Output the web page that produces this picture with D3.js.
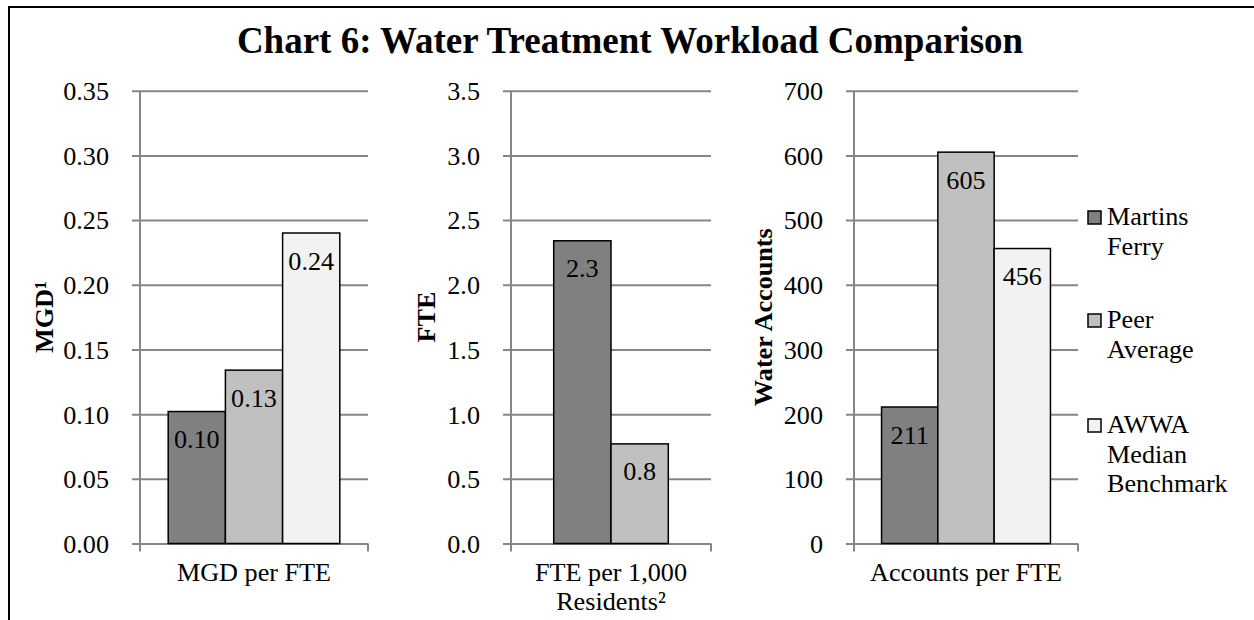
<!DOCTYPE html>
<html>
<head>
<meta charset="utf-8">
<script src="https://cdn.jsdelivr.net/npm/d3@7"></script>
<style>
  html, body { margin: 0; padding: 0; background: #fff; }
  svg { display: block; }
  text { font-family: "Liberation Serif", "Times New Roman", serif; fill: #000; }
</style>
</head>
<body>
<svg id="chart" width="1254" height="620"></svg>
<script>
// ---- data ----
const title = "Chart 6: Water Treatment Workload Comparison";
const seriesNames = ["Martins Ferry", "Peer Average", "AWWA Median Benchmark"];
const seriesColors = ["#808080", "#c0c0c0", "#f2f2f2"];

const categories = ["MGD per FTE", "FTE per 1,000 Residents²", "Accounts per FTE"];
const axisTitles = ["MGD¹", "FTE", "Water Accounts"];

const mgdPerFte = [0.102, 0.134, 0.240];      // Martins Ferry, Peer Average, AWWA
const ftePerThousand = [2.34, 0.77];          // Martins Ferry, Peer Average
const accountsPerFte = [211, 605, 456];       // Martins Ferry, Peer Average, AWWA

const mgdTicks = [0, 0.05, 0.10, 0.15, 0.20, 0.25, 0.30, 0.35];
const fteTicks = [0, 0.5, 1.0, 1.5, 2.0, 2.5, 3.0, 3.5];
const accountTicks = [0, 100, 200, 300, 400, 500, 600, 700];

const tickFormats = [".2f", ".1f", "d"];
const labelFormats = [".2f", ".1f", "d"];

// ---- layout ----
const FONT = "'Liberation Serif', 'Times New Roman', serif";
const FS = 26.2;
const plotTop = 90.7, plotBottom = 543.5;
const panelLeft = [140, 511, 854];
const panelRight = [368, 711, 1078];
const barWidths = [57.2, 57.3, 56.3];
const titleX = [44.5 + 8.6, 426 + 8.6, 763 + 8.6];

const svg = d3.select("#chart");

// outer frame (continues past the right and bottom edges)
svg.append("rect")
  .attr("x", 9).attr("y", 7).attr("width", 1400).attr("height", 800)
  .attr("fill", "none").attr("stroke", "#000").attr("stroke-width", 2);

svg.append("text")
  .attr("x", 630).attr("y", 53)
  .attr("text-anchor", "middle")
  .style("font-family", FONT).style("font-size", "37px").style("font-weight", "bold")
  .text(title);

const panels = [
  { values: mgdPerFte, ticks: mgdTicks },
  { values: ftePerThousand, ticks: fteTicks },
  { values: accountsPerFte, ticks: accountTicks }
];

// word-wrap into lines no wider than maxW
const measurer = svg.append("text")
  .style("font-family", FONT).style("font-size", FS + "px").attr("visibility", "hidden");
function measure(s) { measurer.text(s); return measurer.node().getComputedTextLength(); }
function wrapLines(words, maxW) {
  const lines = [];
  let cur = [];
  words.forEach(w => {
    const trial = cur.concat([w]).join(" ");
    if (cur.length && measure(trial) > maxW) { lines.push(cur.join(" ")); cur = [w]; }
    else cur.push(w);
  });
  if (cur.length) lines.push(cur.join(" "));
  return lines;
}

panels.forEach((p, i) => {
  const left = panelLeft[i], right = panelRight[i], w = right - left;
  const g = svg.append("g").attr("transform", `translate(${left},0)`);
  const ticks = p.ticks;

  const y = d3.scaleLinear()
    .domain([ticks[0], ticks[ticks.length - 1]])
    .range([plotBottom, plotTop]);

  const x0 = d3.scaleBand().domain([categories[i]]).range([0, w]).padding(0);
  const series = seriesNames.slice(0, p.values.length);
  const cx = x0(categories[i]) + x0.bandwidth() / 2;
  const bw = barWidths[i];
  const x1 = d3.scaleBand().domain(series)
    .range([cx - series.length * bw / 2, cx + series.length * bw / 2]).padding(0);

  // value axis with gridlines
  const yAxis = g.append("g")
    .call(d3.axisLeft(y).tickValues(ticks).tickFormat(d3.format(tickFormats[i]))
      .tickSizeInner(8).tickSizeOuter(0).tickPadding(23));
  yAxis.select(".domain").remove();
  yAxis.selectAll(".tick line")
    .attr("x1", w).attr("x2", -8)
    .attr("stroke", "#868686").attr("stroke-width", 2);
  yAxis.selectAll(".tick text")
    .style("font-family", FONT).style("font-size", FS + "px")
    .attr("fill", "#000").attr("dy", "0.34em");

  // vertical axis line, running down into the category tick
  g.append("line")
    .attr("x1", 0).attr("x2", 0).attr("y1", plotTop).attr("y2", plotBottom + 8)
    .attr("stroke", "#868686").attr("stroke-width", 2);
  g.append("line")
    .attr("x1", w).attr("x2", w).attr("y1", plotBottom).attr("y2", plotBottom + 8)
    .attr("stroke", "#868686").attr("stroke-width", 2);

  // bars
  g.selectAll("rect.bar").data(p.values).join("rect")
    .attr("class", "bar")
    .attr("x", (d, j) => x1(series[j]))
    .attr("width", x1.bandwidth())
    .attr("y", d => y(d))
    .attr("height", d => y(0) - y(d))
    .attr("fill", (d, j) => seriesColors[j])
    .attr("stroke", "#000").attr("stroke-width", 1.5);

  // value labels
  const fmt = d3.format(labelFormats[i]);
  g.selectAll("text.val").data(p.values).join("text")
    .attr("class", "val")
    .attr("x", (d, j) => x1(series[j]) + x1.bandwidth() / 2)
    .attr("y", d => y(d) + 36.5)
    .attr("text-anchor", "middle")
    .style("font-family", FONT).style("font-size", FS + "px")
    .text(d => fmt(d));

  // axis title
  g.append("text")
    .attr("transform", `translate(${titleX[i] - left},${(plotTop + plotBottom) / 2}) rotate(-90)`)
    .attr("text-anchor", "middle")
    .style("font-family", FONT).style("font-size", FS + "px").style("font-weight", "bold")
    .text(axisTitles[i]);

  // category label
  const lines = wrapLines(categories[i].split(" "), x0.bandwidth() - 10);
  const ct = g.append("text")
    .attr("text-anchor", "middle")
    .style("font-family", FONT).style("font-size", FS + "px");
  lines.forEach((ln, k) => {
    ct.append("tspan").attr("x", cx).attr("y", 581 + k * 29).text(ln);
  });
});

// legend
const legendTop = [225, 328, 433];
const lg = svg.append("g");
seriesNames.forEach((name, j) => {
  lg.append("rect")
    .attr("x", 1088).attr("y", legendTop[j] - 14)
    .attr("width", 13).attr("height", 13)
    .attr("fill", seriesColors[j]).attr("stroke", "#000").attr("stroke-width", 1.5);
  const lines = wrapLines(name.split(" "), 120);
  const t = lg.append("text")
    .style("font-family", FONT).style("font-size", FS + "px");
  lines.forEach((ln, k) => {
    t.append("tspan").attr("x", 1107).attr("y", legendTop[j] + k * 29.5).text(ln);
  });
});
measurer.remove();
</script>
</body>
</html>
